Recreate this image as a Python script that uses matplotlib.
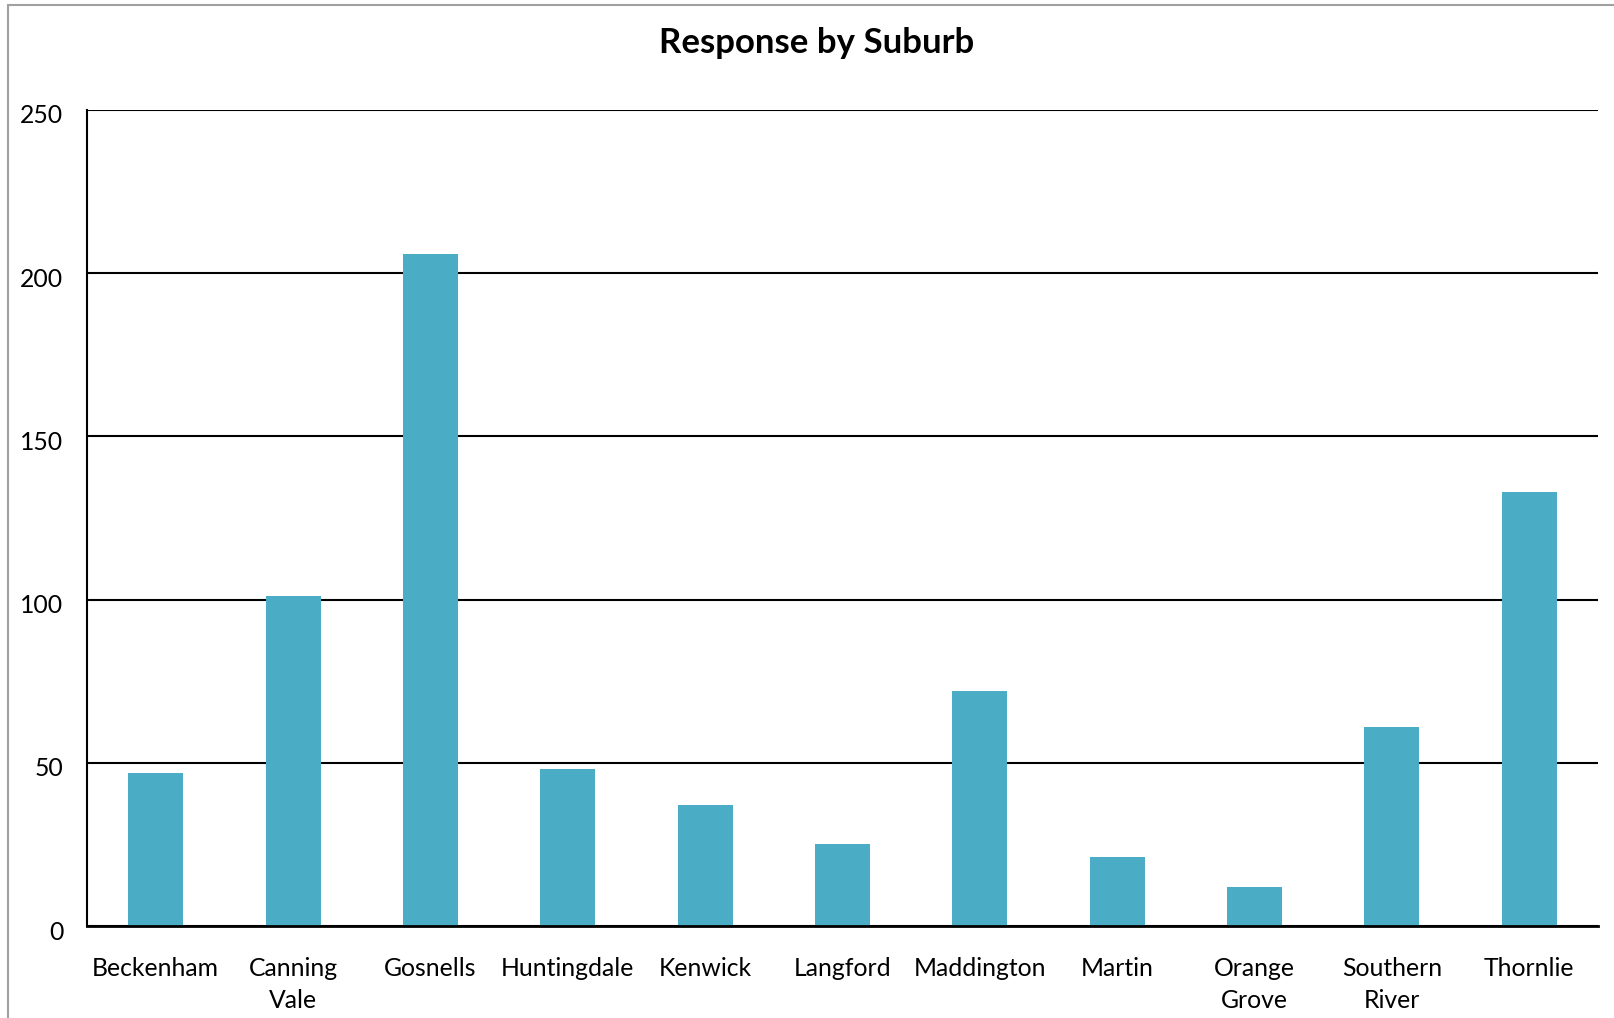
import matplotlib
matplotlib.use('Agg')
import matplotlib.pyplot as plt
import matplotlib.transforms as mtransforms
from matplotlib.patches import Rectangle

# DATA
suburbs = ['Beckenham', 'Canning\nVale', 'Gosnells', 'Huntingdale', 'Kenwick',
           'Langford', 'Maddington', 'Martin', 'Orange\nGrove', 'Southern\nRiver',
           'Thornlie']
responses = [47, 101, 206, 48, 37, 25, 72, 21, 12, 61, 133]
y_ticks = [0, 50, 100, 150, 200, 250]

plt.rcParams['font.family'] = ['Lato', 'DejaVu Sans']

fig = plt.figure(figsize=(16.14, 10.18), dpi=100)
ax = fig.add_axes([87 / 1614, 1 - 926 / 1018, (1598 - 87) / 1614, (926 - 110) / 1018])

# outer chart border (Excel style)
fig.patches.append(Rectangle((8 / 1614, -0.1), 1.2, 1 - 5 / 1018 + 0.1,
                             transform=fig.transFigure, fill=False,
                             edgecolor='#a0a0a0', linewidth=1.5))

x = range(len(suburbs))
ax.bar(x, responses, width=0.4, color='#4BACC6', zorder=3)

ax.set_xlim(-0.5, len(suburbs) - 0.5)
ax.set_ylim(0, 250)
ax.set_yticks(y_ticks)
ax.set_xticks(list(x))
ax.set_xticklabels(suburbs, fontsize=17.8, linespacing=1.5)
ax.tick_params(axis='x', length=0, pad=22)
ax.tick_params(axis='y', length=0, pad=17, labelsize=17.8)

# nudge y labels a little below their gridlines, like the original
shift = mtransforms.ScaledTranslation(0, -4 / 100, fig.dpi_scale_trans)
for lbl in ax.get_yticklabels():
    lbl.set_va('center_baseline')
    lbl.set_transform(lbl.get_transform() + shift)

ax.grid(axis='y', color='black', linewidth=1.5, zorder=1)
for side in ['top', 'right']:
    ax.spines[side].set_visible(False)
ax.spines['left'].set_linewidth(1.5)
ax.spines['bottom'].set_linewidth(2)
ax.spines['bottom'].set_zorder(4)

fig.text(817 / 1614, 1 - 43 / 1018, 'Response by Suburb', ha='center', va='center',
         fontsize=25, fontweight='bold')

fig.savefig('out.png', dpi=100)
